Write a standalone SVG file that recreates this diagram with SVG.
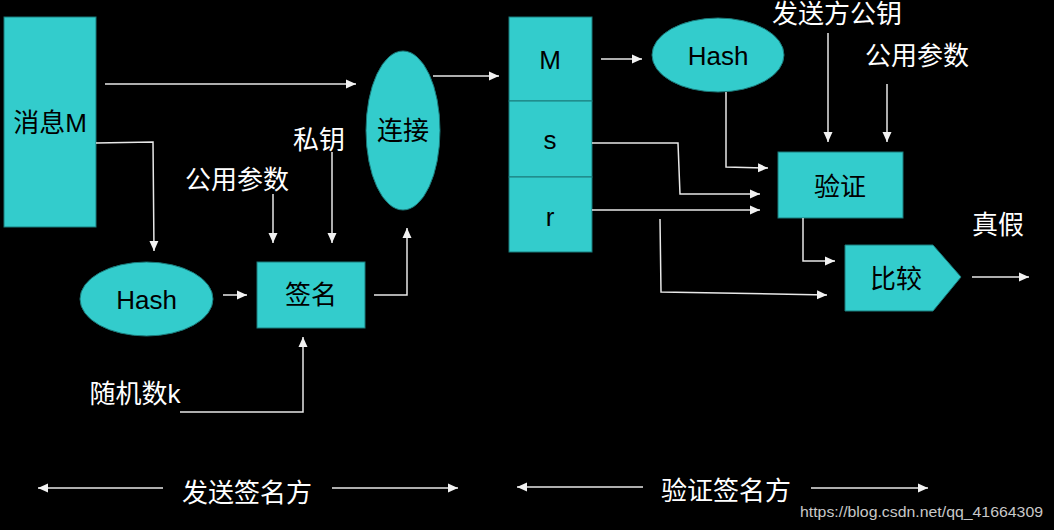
<svg xmlns="http://www.w3.org/2000/svg" width="1054" height="530" viewBox="0 0 1054 530">
<defs>
<style>
.node{fill:#33cccc;stroke:#1b7a7a;stroke-width:1}
.t{font-family:'Liberation Sans','Noto Sans CJK SC',sans-serif;font-size:26px;text-anchor:middle;fill:#000}
.w{font-family:'Liberation Sans','Noto Sans CJK SC',sans-serif;font-size:26px;text-anchor:middle;fill:#fff}
.c{fill:none;stroke:#e8e8e8;stroke-width:1.5}
.wm{font-family:'Liberation Sans Narrow','Liberation Sans',sans-serif;font-size:15px;fill:#c8c8c8}
</style>
<marker id="ah" markerUnits="userSpaceOnUse" markerWidth="11" markerHeight="10" refX="10" refY="5" orient="auto-start-reverse" viewBox="0 0 11 10">
<path d="M0,0.5 L10,5 L0,9.5 z" fill="#f2f2f2"/>
</marker>
</defs>
<rect width="1054" height="530" fill="#000"/>

<g id="msg"><rect class="node" x="4" y="17" width="92" height="210"/><text class="t" x="50" y="132">消息M</text></g>
<g id="hash1"><ellipse class="node" cx="146.5" cy="299" rx="66.5" ry="37"/><text class="t" x="146.5" y="309">Hash</text></g>
<g id="sign"><rect class="node" x="257" y="262" width="108" height="66"/><text class="t" x="311" y="304">签名</text></g>
<g id="concat"><ellipse class="node" cx="403" cy="130.5" rx="37" ry="79.5"/><text class="t" x="403" y="140">连接</text></g>
<g id="pub1"><text class="w" x="237" y="189">公用参数</text></g>
<g id="priv"><text class="w" x="319" y="149">私钥</text></g>
<g id="rand"><text class="w" x="135" y="403">随机数k</text></g>

<g id="stack">
<rect class="node" x="509" y="17" width="83" height="84"/><text class="t" x="550" y="69">M</text>
<rect class="node" x="509" y="101" width="83" height="76"/><text class="t" x="550" y="149">s</text>
<rect class="node" x="509" y="177" width="83" height="75"/><text class="t" x="550" y="226">r</text>
</g>
<g id="hash2"><ellipse class="node" cx="718" cy="55" rx="66" ry="37"/><text class="t" x="718" y="65">Hash</text></g>
<g id="verify"><rect class="node" x="778" y="152" width="125" height="66"/><text class="t" x="840" y="196">验证</text></g>
<g id="compare"><path class="node" d="M845,245 L933,245 L961,277 L933,311 L845,311 z"/><text class="t" x="896" y="288">比较</text></g>
<g id="senderkey"><text class="w" x="837" y="23">发送方公钥</text></g>
<g id="pub2"><text class="w" x="917" y="65">公用参数</text></g>
<g id="tf"><text class="w" x="998" y="234">真假</text></g>
<g id="sender"><text class="w" x="247" y="502">发送签名方</text></g>
<g id="verifier"><text class="w" x="726" y="500">验证签名方</text></g>
<text class="wm" x="800" y="517" textLength="243" lengthAdjust="spacingAndGlyphs">https://blog.csdn.net/qq_41664309</text>

<g id="connectors">
<path class="c" d="M105,84 H356" marker-end="url(#ah)"/>
<path class="c" d="M96,143 L153,142 L154,251" marker-end="url(#ah)"/>
<path class="c" d="M273,194 V243" marker-end="url(#ah)"/>
<path class="c" d="M332,152 V243" marker-end="url(#ah)"/>
<path class="c" d="M223,295 H247" marker-end="url(#ah)"/>
<path class="c" d="M180,412 H303 V337" marker-end="url(#ah)"/>
<path class="c" d="M374,295 H407 V228" marker-end="url(#ah)"/>
<path class="c" d="M433,76 H499" marker-end="url(#ah)"/>
<path class="c" d="M601,59 H642" marker-end="url(#ah)"/>
<path class="c" d="M726,92 L726,167 L768,168" marker-end="url(#ah)"/>
<path class="c" d="M592,143 L678,143 L680,194 L760,194" marker-end="url(#ah)"/>
<path class="c" d="M592,210 H760" marker-end="url(#ah)"/>
<path class="c" d="M660,219 L661,292 L827,295" marker-end="url(#ah)"/>
<path class="c" d="M828,33 V142" marker-end="url(#ah)"/>
<path class="c" d="M887,84 V142" marker-end="url(#ah)"/>
<path class="c" d="M803,218 V261 H835" marker-end="url(#ah)"/>
<path class="c" d="M972,277 H1029" marker-end="url(#ah)"/>
<path class="c" d="M163,488 H38" marker-end="url(#ah)"/>
<path class="c" d="M332,488 H458" marker-end="url(#ah)"/>
<path class="c" d="M643,487 H517" marker-end="url(#ah)"/>
<path class="c" d="M811,488 H928" marker-end="url(#ah)"/>
</g>
</svg>
